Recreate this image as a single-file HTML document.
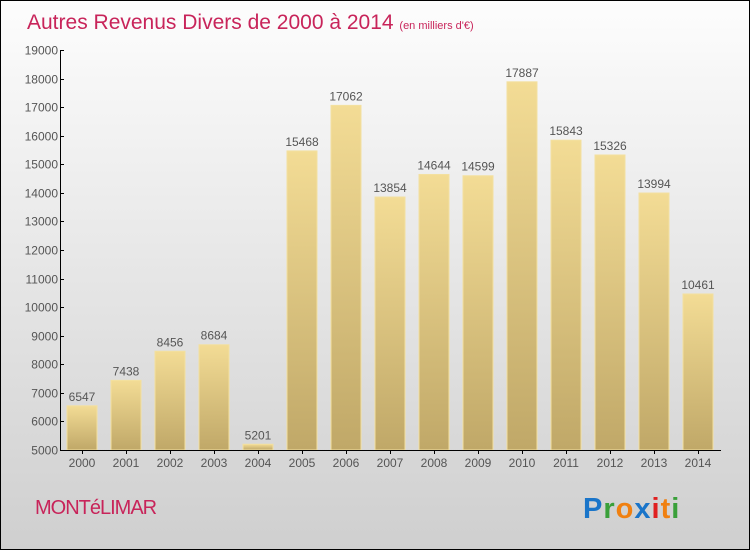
<!DOCTYPE html>
<html><head><meta charset="utf-8"><style>
html,body{margin:0;padding:0}
body{width:750px;height:550px;overflow:hidden}
svg{display:block}
text{font-family:"Liberation Sans",sans-serif}
</style></head><body>
<svg width="750" height="550" xmlns="http://www.w3.org/2000/svg">
<defs>
<linearGradient id="bg" x1="0" y1="0" x2="0" y2="1"><stop offset="0" stop-color="#fdfdfd"/><stop offset="1" stop-color="#cfcfcf"/></linearGradient>
<linearGradient id="bar" x1="0" y1="0" x2="0" y2="1"><stop offset="0" stop-color="#f3dc95"/><stop offset="1" stop-color="#c0a868"/></linearGradient>
</defs>
<rect x="0.5" y="0.5" width="749" height="549" fill="url(#bg)" stroke="#000"/>
<text x="27" y="29" font-size="21" fill="#c8245a">Autres Revenus Divers de 2000 à 2014 <tspan font-size="11">(en milliers d'€)</tspan></text>
<g id="bars"></g>
<line x1="60.5" y1="50" x2="60.5" y2="451" stroke="#000"/>
<line x1="60" y1="450.5" x2="721" y2="450.5" stroke="#000"/>
<g font-size="12" fill="#555" text-anchor="end" id="yt"></g>
<g font-size="12" fill="#555" text-anchor="middle" id="xt"></g>
<text x="35" y="514" font-size="20" fill="#c8245a" letter-spacing="-1">MONTéLIMAR</text>
<text x="583" y="518" font-size="29" font-weight="bold" fill="#1a75c9" letter-spacing="1">P<tspan fill="#3aa03a">r</tspan><tspan fill="#f08010">o</tspan><tspan fill="#1a75c9">x</tspan><tspan fill="#e02020">i</tspan><tspan fill="#f08010">t</tspan><tspan fill="#3aa03a">i</tspan></text>
</svg>
<script>
var v=[6547,7438,8456,8684,5201,15468,17062,13854,14644,14599,17887,15843,15326,13994,10461];
var ns="http://www.w3.org/2000/svg",b=document.getElementById('bars'),xt=document.getElementById('xt'),yt=document.getElementById('yt');
function Y(x){return 450-(x-5000)*400/14000;}
function el(t,a,p,s){var e=document.createElementNS(ns,t);for(var k in a)e.setAttribute(k,a[k]);if(s!=null)e.textContent=s;p.appendChild(e);}
v.forEach(function(x,i){var l=67+44*i,y=Y(x);
el('rect',{x:l,y:y,width:30,height:450-y,fill:'url(#bar)',stroke:'#f3e0a0','stroke-width':1},b);
el('text',{x:l+15,y:y-5,'font-size':12,fill:'#555','text-anchor':'middle'},b,x);
el('text',{x:l+15,y:467},xt,2000+i);
el('line',{x1:l+15.5,y1:450,x2:l+15.5,y2:454,stroke:'#000'},b);});
for(var k=5000;k<=19000;k+=1000){var y=Math.round(Y(k))+0.5;el('text',{x:58,y:y+4},yt,k);el('line',{x1:60,y1:y,x2:64,y2:y,stroke:'#000'},b);}
</script>
</body></html>
